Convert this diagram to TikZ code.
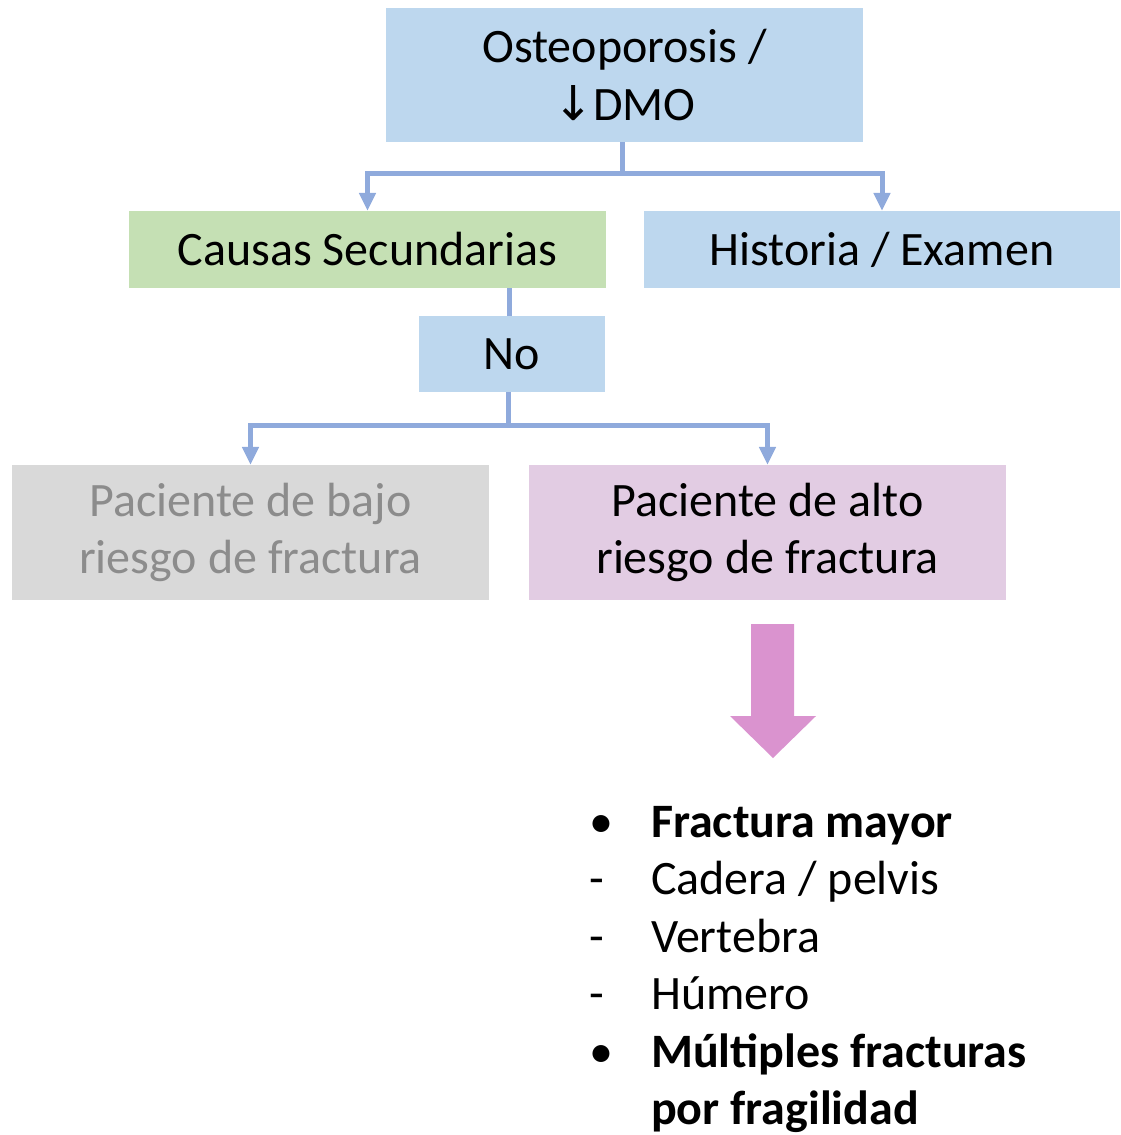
\documentclass[tikz,border=0pt]{standalone}
\usepackage{fontspec}
\setmainfont{Carlito}
\newfontfamily\flechas{DejaVu Sans}
\usetikzlibrary{arrows.meta}

\definecolor{azul}{HTML}{BDD7EE}
\definecolor{verde}{HTML}{C5E0B4}
\definecolor{gris}{HTML}{D9D9D9}
\definecolor{rosa}{HTML}{E2CCE3}
\definecolor{linea}{HTML}{8FAADC}
\definecolor{rosafuerte}{HTML}{DA93CF}
\definecolor{textogris}{HTML}{8C8C8C}

\tikzset{
  caja/.style={rectangle, inner sep=0pt, minimum width=477pt, align=center,
    font=\fontsize{48}{57.5}\selectfont},
  conector/.style={draw=linea, line width=5pt, -{Triangle[width=16pt,length=18pt]}},
  enlace/.style={draw=linea, line width=5pt},
}

\begin{document}
\begin{tikzpicture}[x=1pt, y=-1pt]
        \useasboundingbox (0,0) rectangle (1120,1135);

        \node[caja, fill=azul, minimum height=134pt] (osteo) at (624.5,75) {Osteoporosis /\\{\flechas ↓}DMO};
        \node[caja, fill=verde, minimum height=77pt] (causas) at (367.5,249.5) {Causas Secundarias};
        \node[caja, fill=azul, minimum height=77pt, minimum width=476pt] (historia) at (882,249.5) {Historia / Examen};
        \node[caja, fill=azul, minimum height=76pt, minimum width=186pt] (no) at (512,354) {No};
        \node[caja, fill=gris, minimum height=135pt, text=textogris] (bajo) at (250.5,532.5) {Paciente de bajo\\riesgo de fractura};
        \node[caja, fill=rosa, minimum height=135pt] (alto) at (767.5,532.5) {Paciente de alto\\riesgo de fractura};

        \draw[conector] ([xshift=-2pt]osteo.south) -- ++(0,31) -| (causas.north);
        \draw[conector] ([xshift=-2pt]osteo.south) -- ++(0,31) -| (historia.north);
        \draw[enlace] ([xshift=-3pt]no.north) -- ([xshift=-3pt]no.north |- causas.south);
        \draw[conector] ([xshift=-4pt]no.south) -- ++(0,33) -| (bajo.north);
        \draw[conector] ([xshift=-4pt]no.south) -- ++(0,33) -| (alto.north);

        % flecha grande
        \fill[rosafuerte] (751,624) -- (794,624) -- (794,716) -- (816,716) -- (773,758)
            -- (730,716) -- (751,716) -- cycle;

        \node[anchor=north west, inner sep=0pt, font=\fontsize{48}{57.5}\selectfont] (lista) at (589,797) {%
            \begin{tabular}{@{}p{62pt}@{}l@{}}
            \textbullet & \textbf{Fractura mayor}\\
            - & Cadera / pelvis\\
            - & Vertebra\\
            - & Húmero\\
            \textbullet & \textbf{Múltiples fracturas}\\
            & \textbf{por fragilidad}
            \end{tabular}};
\end{tikzpicture}
\end{document}
